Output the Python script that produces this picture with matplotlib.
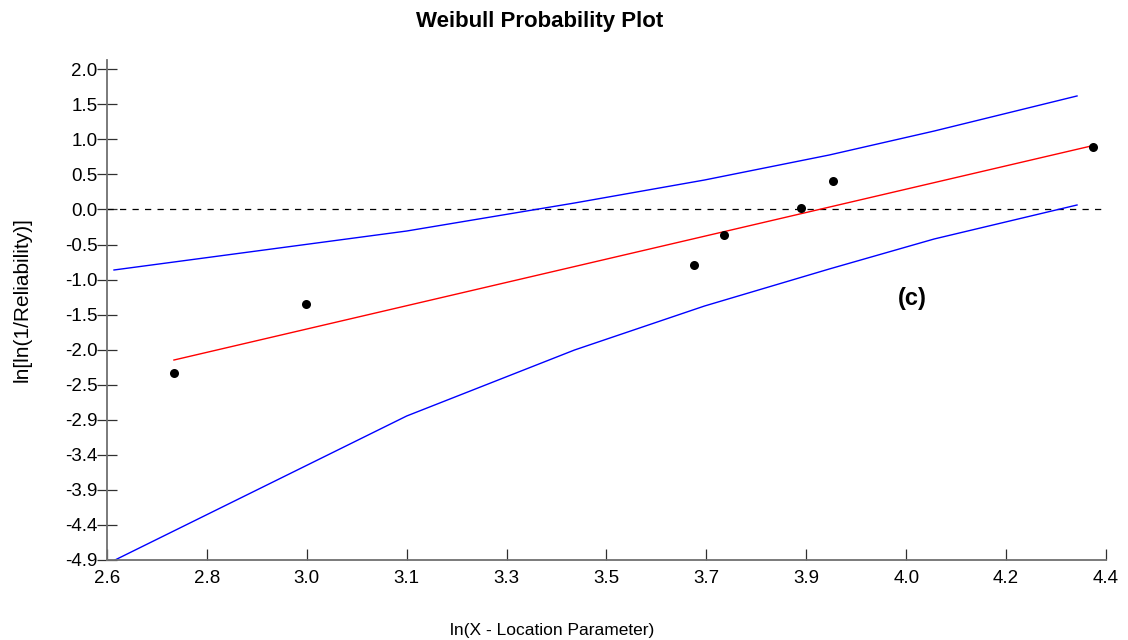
import matplotlib
matplotlib.use("Agg")
import matplotlib.pyplot as plt
from matplotlib import font_manager

names = {f.name for f in font_manager.fontManager.ttflist}
fam = ['Liberation Sans Narrow'] if 'Liberation Sans Narrow' in names else ['Liberation Sans']
fam = fam + ['DejaVu Sans']
plt.rcParams['font.family'] = fam

# Data
obs_x = [2.7206, 2.9577, 3.6584, 3.7115, 3.851, 3.9086, 4.3766]
obs_y = [-2.266, -1.305, -0.752, -0.323, 0.050, 0.429, 0.903]

fit_x = [2.7206, 4.373]
fit_y = [-2.088, 0.921]

upper_x = [2.6126, 3.14, 3.4424, 3.6764, 3.9014, 4.0904, 4.3478]
upper_y = [-0.822, -0.274, 0.120, 0.443, 0.795, 1.132, 1.625]

lower_x = [2.6144, 3.14, 3.4424, 3.6764, 3.9014, 4.0904, 4.3478]
lower_y = [-4.900, -2.875, -1.947, -1.329, -0.808, -0.386, 0.092]

ref_line_y = 0.03

x_tick_vals = [2.6 + 0.18 * i for i in range(11)]
x_tick_labels = ['2.6', '2.8', '3.0', '3.1', '3.3', '3.5', '3.7', '3.9', '4.0', '4.2', '4.4']
y_tick_vals = [2.0 - 6.9 / 14 * i for i in range(15)]
y_tick_labels = ['2.0', '1.5', '1.0', '0.5', '0.0', '-0.5', '-1.0', '-1.5', '-2.0',
                 '-2.5', '-2.9', '-3.4', '-3.9', '-4.4', '-4.9']

fig = plt.figure(figsize=(11.28, 6.4), dpi=100)
ax = fig.add_axes([107 / 1128, 1 - 560 / 640, (1106 - 107) / 1128, (560 - 60) / 640])
ax.set_xlim(2.6, 4.4)
ax.set_ylim(-4.9, 2.0 + 6.9 / 490.7 * 9.3)

ax.axhline(ref_line_y, color='black', lw=0.9, ls=(0, (5, 5)))
ax.plot(upper_x, upper_y, color='#0000ff', lw=1.0)
ax.plot(lower_x, lower_y, color='#0000ff', lw=1.0)
ax.plot(fit_x, fit_y, color='#ff0000', lw=1.0)
ax.plot(obs_x, obs_y, 'o', color='black', ms=6.5, mew=0)

for s in ['top', 'right']:
    ax.spines[s].set_visible(False)
for s in ['left', 'bottom']:
    ax.spines[s].set_color('#707070')
    ax.spines[s].set_linewidth(1.3)

ax.set_xticks(x_tick_vals)
ax.set_xticklabels(x_tick_labels)
ax.set_yticks(y_tick_vals)
ax.set_yticklabels(y_tick_labels)
ax.tick_params(axis='x', direction='in', length=8, width=0.9, color='#303030',
               labelsize=13.5, pad=7)
ax.tick_params(axis='y', direction='inout', length=14, width=0.9, color='#303030',
               labelsize=13.5, pad=0)

fig.text(540 / 1128, 1 - 22 / 640, 'Weibull Probability Plot', ha='center', va='center',
         fontsize=16, fontweight='bold')
fig.text(552 / 1128, 1 - 630 / 640, 'ln(X - Location Parameter)', ha='center',
         va='center', fontsize=12.5)
fig.text(22 / 1128, 1 - 300 / 640, 'ln[ln(1/Reliability)]', ha='center',
         va='center', fontsize=15, rotation=90)
fig.text(912 / 1128, 1 - 299 / 640, '(c)', ha='center', va='center',
         fontsize=17, fontweight='bold')

fig.savefig('out.png', dpi=100)
